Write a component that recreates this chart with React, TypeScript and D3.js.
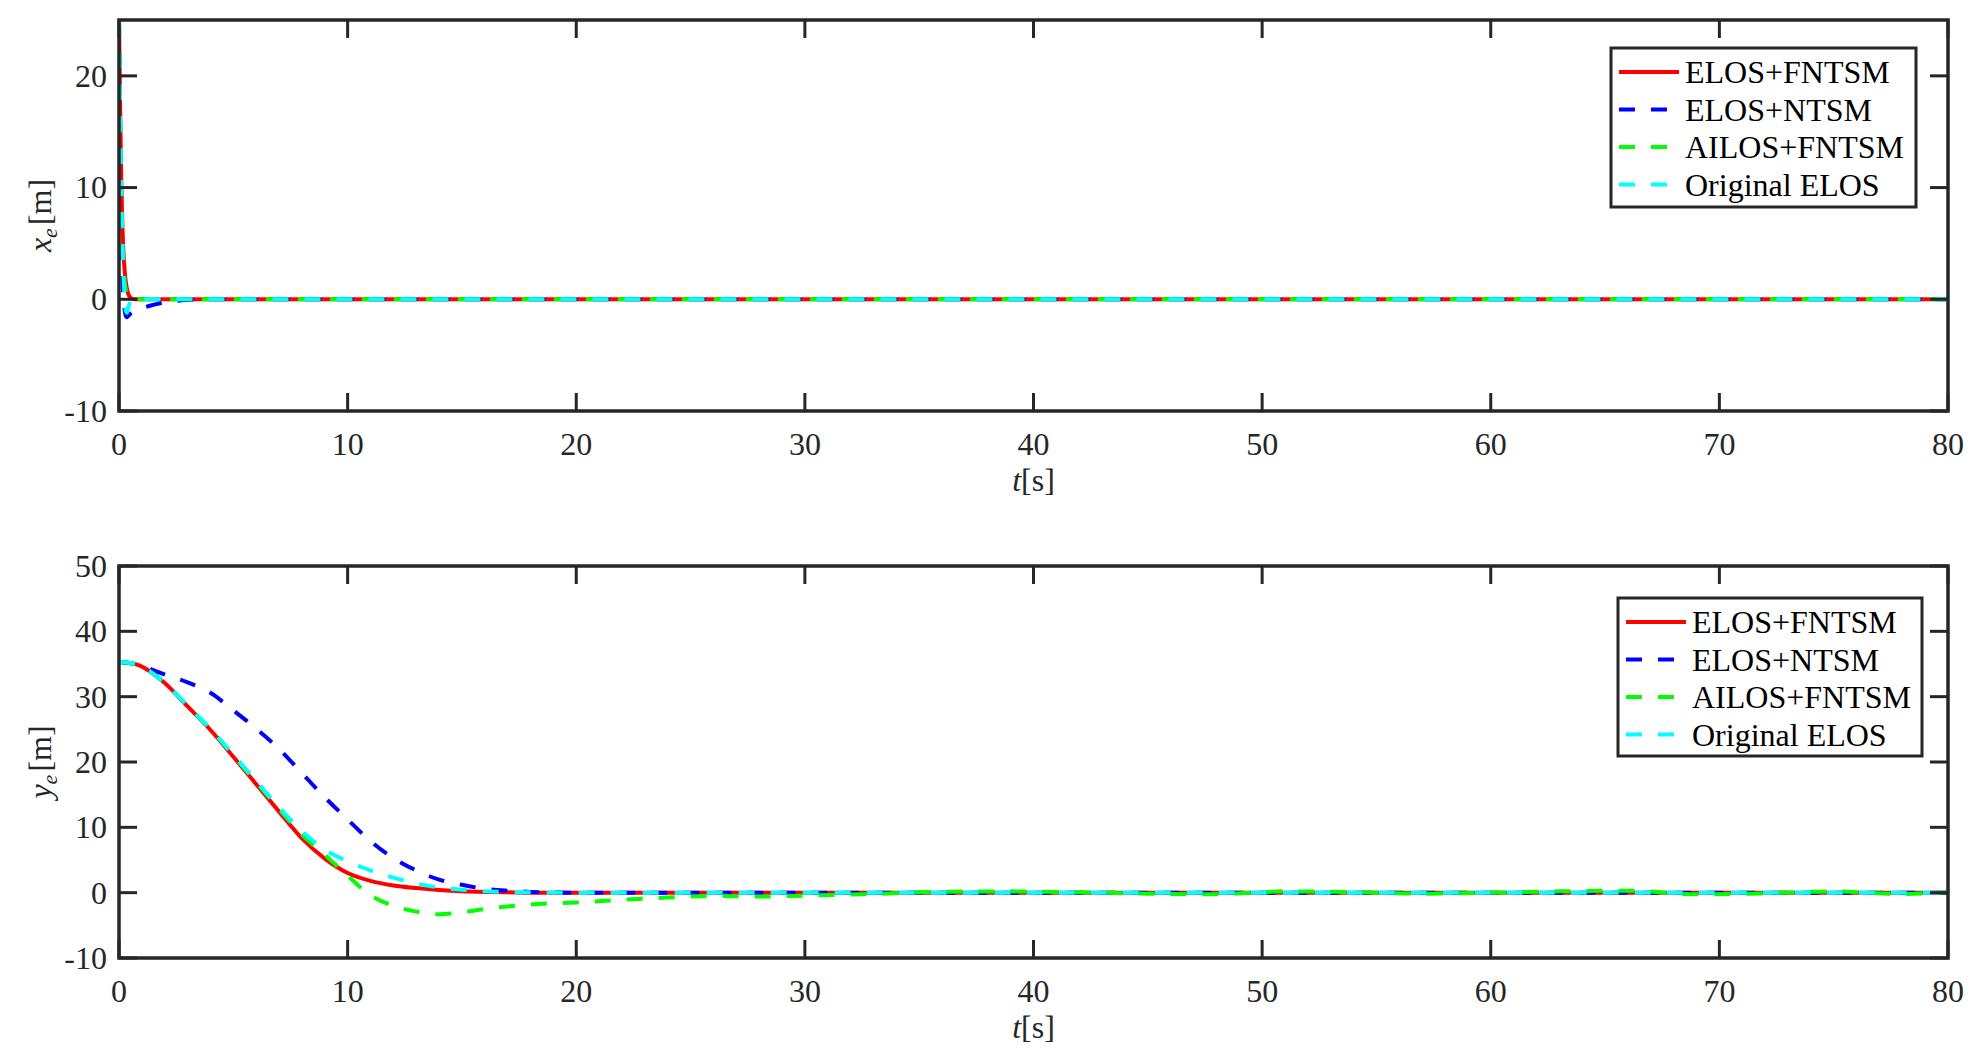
import React from 'react';
import * as d3 from 'd3';

// time grid + values
const T_TOP = [0, 0.05, 0.1, 0.15, 0.2, 0.25, 0.3, 0.35, 0.4, 0.5, 0.6, 0.8, 1.0, 1.5, 2.0, 2.5, 3.0, 4.0, 80];
const XE_FNTSM = [25, 17, 10.5, 6.5, 4.0, 2.5, 1.5, 0.9, 0.5, 0.15, 0.03, 0, 0, 0, 0, 0, 0, 0, 0];
const XE_NTSM = [25, 14, 6, 2, 0, -1, -1.5, -1.6, -1.5, -1.3, -1.15, -0.95, -0.8, -0.5, -0.25, -0.15, -0.05, 0, 0];
const XE_AILOS = [25, 16, 9, 5, 3, 1.5, 0.8, 0.4, 0.2, 0.05, 0, 0, 0, 0, 0, 0, 0, 0, 0];
const XE_ORIG = [25, 16, 9.5, 5, 2, 0, -1, -1.2, -0.8, -0.2, 0, 0, 0, 0, 0, 0, 0, 0, 0];

const T_BOT = [0, 0.7, 2, 3, 4, 5, 6, 7, 8, 9, 10, 11, 12, 13, 14, 15, 16, 17, 18, 20, 22, 24, 26, 28, 30, 33, 36, 39, 42, 45, 48, 51, 54, 57, 60, 63, 66, 69, 72, 75, 78, 80];
const YE_FNTSM = [35.3, 35.0, 32.1, 28.5, 24.9, 20.8, 16.6, 12.4, 8.3, 5.2, 3.0, 1.8, 1.1, 0.7, 0.4, 0.2, 0.1, 0.05, 0, 0, 0, 0, 0, 0, 0, 0, 0, 0, 0, 0, 0, 0, 0, 0, 0, 0, 0, 0, 0, 0, 0, 0];
const YE_NTSM = [35.3, 35.0, 33.4, 32.2, 30.6, 27.9, 25.1, 22.0, 18.3, 14.6, 11.2, 7.9, 5.3, 3.4, 2.0, 1.2, 0.6, 0.3, 0.12, 0, 0, 0, 0, 0, 0, 0, 0, 0, 0, 0, 0, 0, 0, 0, 0, 0, 0, 0, 0, 0, 0, 0];
const YE_AILOS = [35.3, 35.0, 32.1, 28.6, 25.0, 21.0, 16.9, 12.8, 8.9, 5.8, 2.6, -0.4, -2.0, -2.9, -3.3, -3.0, -2.5, -2.1, -1.8, -1.5, -1.1, -0.75, -0.5, -0.6, -0.45, -0.2, 0.15, 0.2, 0.05, -0.15, -0.25, 0.2, 0.1, -0.15, 0, 0.2, 0.3, -0.25, -0.1, 0.2, -0.2, 0.1];
const YE_ORIG = [35.3, 35.0, 32.1, 28.6, 25.1, 21.1, 17.1, 13.1, 9.4, 6.6, 4.8, 3.4, 2.3, 1.4, 0.8, 0.45, 0.2, 0.1, 0.05, 0, 0, 0, 0, 0, 0, 0, 0, 0, 0, 0, 0, 0, 0, 0, 0, 0, 0, 0, 0, 0, 0, 0];

const X_TICKS = [0, 10, 20, 30, 40, 50, 60, 70, 80];
const XE_TICKS = [-10, 0, 10, 20];
const YE_TICKS = [-10, 0, 10, 20, 30, 40, 50];

const LABELS = ['ELOS+FNTSM', 'ELOS+NTSM', 'AILOS+FNTSM', 'Original ELOS'];
const COLORS = ['#ff0000', '#0000ff', '#00ff00', '#00ffff'];
const DASHES = [undefined, '16 16', '16 16', '16 16'];

const FONT = '"Liberation Serif", "Times New Roman", serif';
const INK = '#262626';
const LEFT = 119;
const RIGHT = 1948;
const TICK = 18;

const Panel = ({id, top, bottom, yDomain, yTicks, t, series, varName, legend}) => {
  const x = d3.scaleLinear().domain([0, 80]).range([LEFT, RIGHT]);
  const y = d3.scaleLinear().domain(yDomain).range([bottom, top]);
  const line = d3.line().x(d => x(d[0])).y(d => y(d[1])).curve(d3.curveMonotoneX);
  const midY = (top + bottom) / 2;

  return (
    <g>
      <defs>
        <clipPath id={id}>
          <rect x={LEFT} y={top} width={RIGHT - LEFT} height={bottom - top} />
        </clipPath>
      </defs>
      <g clipPath={`url(#${id})`}>
        {series.map((s, i) => (
          <path key={i} d={line(t.map((tv, j) => [tv, s[j]]))} fill="none"
            stroke={COLORS[i]} strokeWidth={4} strokeDasharray={DASHES[i]} />
        ))}
      </g>

      {/* ticks, mirrored on all four sides */}
      {X_TICKS.map(v => (
        <g key={'x' + v}>
          <line x1={x(v)} x2={x(v)} y1={bottom} y2={bottom - TICK} stroke={INK} strokeWidth={3} />
          <line x1={x(v)} x2={x(v)} y1={top} y2={top + TICK} stroke={INK} strokeWidth={3} />
          <text x={x(v)} y={bottom + 44} textAnchor="middle" fontFamily={FONT} fontSize={32} fill={INK}>{v}</text>
        </g>
      ))}
      {yTicks.map(v => (
        <g key={'y' + v}>
          <line x1={LEFT} x2={LEFT + TICK} y1={y(v)} y2={y(v)} stroke={INK} strokeWidth={3} />
          <line x1={RIGHT} x2={RIGHT - TICK} y1={y(v)} y2={y(v)} stroke={INK} strokeWidth={3} />
          <text x={107} y={y(v)} dy="0.34em" textAnchor="end" fontFamily={FONT} fontSize={32} fill={INK}>{v}</text>
        </g>
      ))}

      <rect x={LEFT} y={top} width={RIGHT - LEFT} height={bottom - top} fill="none" stroke={INK} strokeWidth={3.5} />

      {/* axis labels */}
      <text x={(LEFT + RIGHT) / 2} y={bottom + 80} textAnchor="middle" fontFamily={FONT} fontSize={32} fill={INK}>
        <tspan fontStyle="italic">t</tspan><tspan>[s]</tspan>
      </text>
      <text transform={`translate(51,${midY}) rotate(-90)`} textAnchor="middle" fontFamily={FONT} fontSize={32} fill={INK}>
        <tspan fontStyle="italic">{varName}</tspan>
        <tspan fontStyle="italic" fontSize={22} dy={6}>e</tspan>
        <tspan dy={-6} dx={3}>[m]</tspan>
      </text>

      {/* legend */}
      <rect x={legend.x} y={legend.y} width={legend.w} height={legend.h} fill="#fff" stroke={INK} strokeWidth={3} />
      {LABELS.map((lab, i) => {
        const ly = legend.y + 24 + i * 37.5;
        return (
          <g key={lab}>
            <line x1={legend.x + 8} x2={legend.x + 68} y1={ly} y2={ly} stroke={COLORS[i]} strokeWidth={4} strokeDasharray={DASHES[i]} />
            <text x={legend.x + 74} y={ly + 11} fontFamily={FONT} fontSize={32} fill="#000">{lab}</text>
          </g>
        );
      })}
    </g>
  );
};

export default function App() {
  return (
    <svg width={1982} height={1060} style={{position: 'absolute', left: 0, top: 0, background: '#fff'}}>
      <Panel id="clipTop" top={20} bottom={411} yDomain={[-10, 25]} yTicks={XE_TICKS} t={T_TOP}
        series={[XE_FNTSM, XE_NTSM, XE_AILOS, XE_ORIG]} varName="x"
        legend={{x: 1611, y: 48, w: 305, h: 159}} />
      <Panel id="clipBot" top={566} bottom={958} yDomain={[-10, 50]} yTicks={YE_TICKS} t={T_BOT}
        series={[YE_FNTSM, YE_NTSM, YE_AILOS, YE_ORIG]} varName="y"
        legend={{x: 1618, y: 598, w: 304, h: 158}} />
    </svg>
  );
}
